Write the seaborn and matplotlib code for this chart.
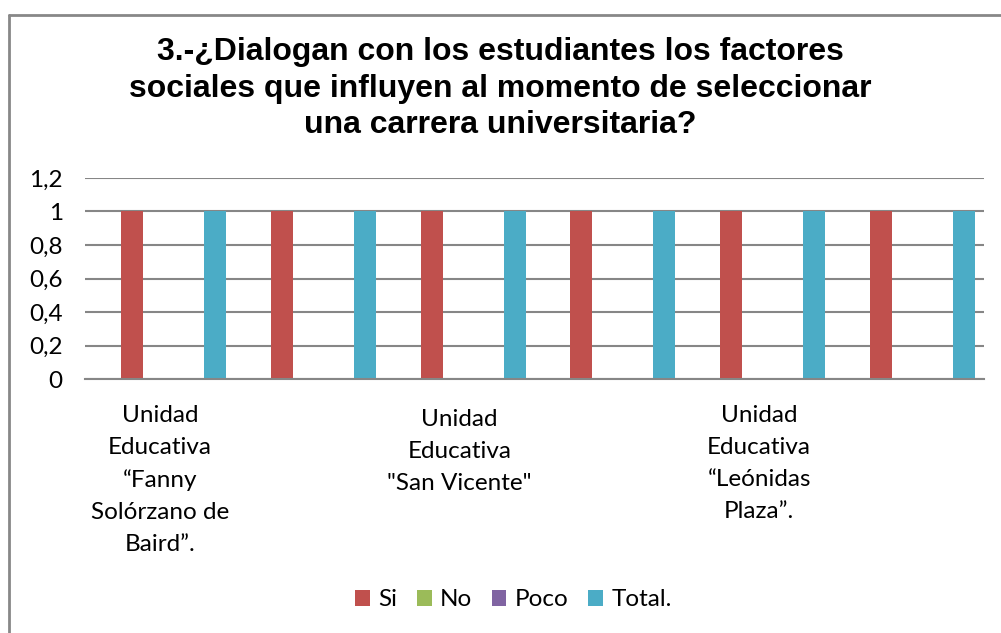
import matplotlib
matplotlib.use("Agg")
import matplotlib.pyplot as plt
from matplotlib.patches import Patch
from matplotlib.lines import Line2D
import matplotlib.transforms as mtrans
import seaborn as sns
import pandas as pd

# ---- data ----
groups = ["G1", "G2", "G3", "G4", "G5", "G6"]
group_labels = [
    "Unidad\nEducativa\n\u201cFanny\nSolórzano de\nBaird\u201d.",
    "",
    "Unidad\nEducativa\n\"San Vicente\"",
    "",
    "Unidad\nEducativa\n\u201cLeónidas\nPlaza\u201d.",
    "",
]
series = ["Si", "No", "Poco", "Total."]
si = [1, 1, 1, 1, 1, 1]
no = [0, 0, 0, 0, 0, 0]
poco = [0, 0, 0, 0, 0, 0]
total = [1, 1, 1, 1, 1, 1]
yticks = [0, 0.2, 0.4, 0.6, 0.8, 1.0, 1.2]
ytick_labels = ["0", "0,2", "0,4", "0,6", "0,8", "1", "1,2"]
colors = ["#C0504D", "#9BBB59", "#8064A2", "#4BACC6"]
title = ("3.-¿Dialogan con los estudiantes los factores\n"
         "sociales que influyen al momento de seleccionar\n"
         "una carrera universitaria?")

rows = []
for s, vals in zip(series, [si, no, poco, total]):
    for g, v in zip(groups, vals):
        rows.append({"grupo": g, "serie": s, "valor": v})
df = pd.DataFrame(rows)

sns.set_theme(style="white")
plt.rcParams["font.family"] = ["Lato", "DejaVu Sans"]
plt.rcParams["text.color"] = "black"
plt.rcParams["ytick.color"] = "black"

FS = 17.5

fig = plt.figure(figsize=(10.01, 6.33), dpi=100)
ax = fig.add_axes([85 / 1001, 1 - 379 / 633, (984 - 85) / 1001, (379 - 178) / 633])

sns.barplot(data=df, x="grupo", y="valor", hue="serie", order=groups,
            hue_order=series, palette=colors, width=0.739, dodge=True,
            saturation=1, ax=ax, legend=False, linewidth=0)

# narrow the bars and shift the cluster as in the original
bw = 22 / 150
for p in ax.patches:
    cx = p.get_x() + p.get_width() / 2 + 0.09
    p.set_width(bw)
    p.set_x(cx - bw / 2)

ax.set_xlim(-0.5, len(groups) - 0.5)
ax.set_ylim(0, 1.2)
ax.set_yticks(yticks)
ax.set_yticklabels(ytick_labels, fontsize=FS, color="black")
ax.yaxis.grid(True, color="#868686", linewidth=1.5)
ax.set_axisbelow(True)
ax.tick_params(axis="y", length=0, pad=16)
ax.tick_params(axis="x", length=0)
ax.set_xticks([])
ax.set_xlabel("")
ax.set_ylabel("")
for side in ["left", "right", "top"]:
    ax.spines[side].set_visible(False)
ax.spines["bottom"].set_color("#868686")
ax.spines["bottom"].set_linewidth(1.5)

# category labels
trans = mtrans.blended_transform_factory(ax.transData, fig.transFigure)
for i, lab in enumerate(group_labels):
    if not lab:
        continue
    nlines = lab.count("\n") + 1
    ytop = 1 - (405 if nlines > 3 else 409) / 633
    ax.text(i, ytop, lab, transform=trans, ha="center", va="top",
            fontsize=FS, linespacing=1.64, color="black")

fig.suptitle(title, x=0.5, y=1 - 37 / 633, va="top", fontsize=23,
             fontweight="bold", family=["Liberation Sans", "DejaVu Sans"],
             linespacing=1.29, color="black")

handles = [Patch(facecolor=c, edgecolor="none") for c in colors]
fig.legend(handles, series, loc="center", bbox_to_anchor=(0.513, 1 - 600 / 633),
           ncol=4, frameon=False, fontsize=FS, handlelength=0.6,
           handleheight=0.6, handletextpad=0.35, columnspacing=0.8)

# outer border (top and left)
fig.add_artist(Line2D([9 / 1001, 1], [1 - 15 / 633, 1 - 15 / 633],
                      transform=fig.transFigure, color="#888888", linewidth=2))
fig.add_artist(Line2D([9 / 1001, 9 / 1001], [0, 1 - 15 / 633],
                      transform=fig.transFigure, color="#888888", linewidth=2))

fig.savefig("out.png", dpi=100)
